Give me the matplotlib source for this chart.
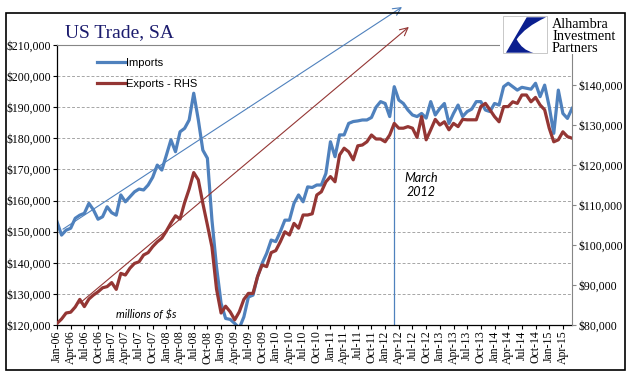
import matplotlib.pyplot as plt
import matplotlib.patches as mpatches
from matplotlib.path import Path
from matplotlib.ticker import FuncFormatter
import pandas as pd

# Monthly US trade in goods, seasonally adjusted, millions of $
months = pd.date_range('2006-01-01', periods=114, freq='MS')
month_labels = list(months.strftime('%b-%y'))

imports = [
    153.2, 148.9, 150.5, 151.1, 154.3, 155.3, 155.9, 159.1, 157.0, 154.0, 154.8, 158.0,
    156.1, 155.3, 161.8, 159.6, 161.2, 162.8, 163.7, 163.4, 165.0, 167.5, 171.4, 169.8,
    174.6, 179.5, 175.7, 182.1, 183.2, 185.9, 194.5, 186.0, 176.2, 173.6, 153.7, 138.7,
    127.0, 122.1, 121.8, 120.5, 119.0, 122.6, 129.0, 129.6, 135.5, 139.8, 143.0, 147.3,
    146.8, 150.0, 153.7, 153.7, 159.1, 161.8, 159.6, 164.4, 164.2, 165.0, 165.0, 168.7,
    178.9, 174.1, 181.1, 181.1, 184.8, 185.4, 185.6, 185.9, 185.9, 186.7, 190.0, 191.8,
    191.2, 187.0, 196.6, 192.3, 191.2, 189.1, 187.5, 187.0, 188.0, 186.5, 191.8, 187.5,
    189.6, 191.2, 184.8, 188.0, 190.7, 187.0, 188.6, 189.4, 191.8, 191.8, 189.1, 188.6,
    191.2, 190.7, 196.6, 197.7, 196.6, 195.5, 196.4, 196.1, 195.8, 197.7, 193.4, 197.1,
    190.2, 181.6, 195.5, 188.0, 186.4, 189.6,
]
exports = [
    80.4, 81.5, 83.0, 83.2, 84.5, 86.4, 84.6, 86.5, 87.5, 88.3, 89.3, 89.6,
    90.6, 88.9, 92.9, 92.5, 94.2, 95.4, 95.8, 97.5, 98.1, 99.6, 100.8, 101.7,
    103.5, 105.5, 107.3, 106.5, 110.6, 114.0, 118.1, 116.3, 110.4, 105.0, 99.5, 89.0,
    83.0, 84.7, 83.3, 81.3, 83.3, 86.4, 87.9, 87.9, 92.1, 95.0, 94.6, 98.1,
    98.6, 100.8, 103.3, 102.5, 105.4, 104.2, 107.5, 107.5, 107.8, 112.5, 113.3, 115.8,
    117.1, 115.8, 122.5, 124.2, 123.3, 121.3, 124.8, 125.0, 125.8, 127.5, 126.5, 126.5,
    125.8, 127.5, 130.4, 129.2, 129.2, 129.6, 129.2, 126.9, 132.1, 126.3, 128.8, 131.4,
    130.0, 130.8, 128.8, 130.4, 129.6, 131.4, 131.3, 131.3, 131.3, 134.6, 135.4, 133.8,
    132.1, 130.8, 134.6, 134.6, 135.8, 135.4, 137.5, 137.5, 135.8, 136.9, 135.0, 133.8,
    129.2, 125.8, 126.3, 128.3, 127.1, 126.7,
]
imports = [v * 1000 for v in imports]
exports = [v * 1000 for v in exports]

marked_month = 74  # Mar-12
# trend arrows (start, end) in months / left-axis $
blue_arrow = ((1.3, 150800), (75.7, 222200))
red_arrow = ((5.0, 127000), (77.2, 215800))

BLUE = '#4F81BD'
RED = '#943634'
SERIF = 'Liberation Serif'

fig = plt.figure(figsize=(6.41, 3.81), dpi=100)
W, H = 641, 381
ax = fig.add_axes([57 / W, 1 - 325 / H, (572 - 57) / W, (325 - 45) / H])
ax2 = ax.twinx()

x = list(range(len(imports)))
l1, = ax.plot(x, imports, color=BLUE, lw=2.3, label='Imports')
l2, = ax2.plot(x, exports, color=RED, lw=2.3, label='Exports - RHS')

ax.vlines(marked_month, 120000, imports[marked_month], color=BLUE, lw=0.9)

for (start, end), col in ((blue_arrow, BLUE), (red_arrow, RED)):
    ax.annotate('', xy=end, xytext=start, annotation_clip=False,
                arrowprops=dict(arrowstyle='->', color=col, lw=0.8,
                                mutation_scale=14, shrinkA=0, shrinkB=0))

ax.set_xlim(0, len(imports) - 1)
ax.set_ylim(120000, 210000)
ax2.set_ylim(80000, 150000)

ax.set_xticks(x[::3])
ax.set_xticklabels(month_labels[::3], rotation=90, family=SERIF, fontsize=8.5)
ax.set_yticks(range(120000, 210001, 10000))
ax2.set_yticks(range(80000, 140001, 10000))
money = FuncFormatter(lambda v, p: '${:,.0f}'.format(v))
ax.yaxis.set_major_formatter(money)
ax2.yaxis.set_major_formatter(money)
for lab in ax.get_yticklabels() + ax2.get_yticklabels():
    lab.set_family(SERIF)
    lab.set_fontsize(8.5)

ax.grid(axis='y', color='#A6A6A6', lw=0.7, linestyle=(0, (3, 2)))
ax.tick_params(axis='y', direction='out', length=3, pad=1, color='black')
ax.tick_params(axis='x', direction='out', length=3, pad=1, color='black')
ax2.tick_params(axis='y', direction='out', length=3, pad=2, color='#868686')

for s in ('left', 'bottom'):
    ax.spines[s].set_color('black')
    ax.spines[s].set_linewidth(0.9)
ax.spines['top'].set_color('#868686')
ax.spines['right'].set_visible(False)
for s in ('left', 'bottom', 'top'):
    ax2.spines[s].set_visible(False)
ax2.spines['right'].set_color('#868686')

fig.legend(handles=[l1, l2], loc='upper left', bbox_to_anchor=(97 / W, 1 - 57.5 / H),
           frameon=False, borderpad=0, borderaxespad=0, handlelength=2.6,
           handletextpad=0.05, labelspacing=1.0,
           prop={'family': 'Liberation Sans', 'size': 8})

ax.text((146 - 57) / 515, 0.036, 'millions of $s', transform=ax.transAxes,
        ha='center', va='center', fontsize=8, style='italic', family='Lato')
ax.text(0.707, 0.5, 'March\n2012', transform=ax.transAxes, ha='center',
        va='center', fontsize=9, style='italic', family='Lato', linespacing=1.3)

fig.text(65 / W, 1 - 37 / H, 'US Trade, SA', fontsize=14, family=SERIF,
         color='#1C1C6E', va='baseline')

# logo block
lg = fig.add_axes([500 / W, 1 - 54 / H, 124 / W, 40 / H], zorder=5)
lg.set_facecolor('white')
lg.set_xticks([])
lg.set_yticks([])
for s in lg.spines.values():
    s.set_visible(False)
lg.set_xlim(500, 624)
lg.set_ylim(54, 14)
lg.add_patch(mpatches.Rectangle((503, 16), 44, 37, fc='white', ec='#BFBFBF', lw=0.6))
verts = [(526.7, 17.3), (546, 17.3), (525, 27), (516.7, 39.3), (522, 50), (533.3, 52.7),
         (506, 52.7), (526.7, 17.3)]
codes = [Path.MOVETO, Path.LINETO, Path.CURVE3, Path.CURVE3, Path.CURVE3, Path.CURVE3,
         Path.LINETO, Path.CLOSEPOLY]
lg.add_patch(mpatches.PathPatch(Path(verts, codes), fc='#0B1F8F', ec='none'))
for yy, word in ((28, 'Alhambra'), (40.5, 'Investment'), (52, 'Partners')):
    lg.text(552, yy, word, family=SERIF, fontsize=10.3, va='baseline', ha='left')

fig.patches.append(mpatches.Rectangle((6 / W, 1 - 370 / H), 619 / W, 357 / H,
                                      transform=fig.transFigure, fill=False,
                                      ec='black', lw=1.2))

fig.savefig('out.png', dpi=100)
